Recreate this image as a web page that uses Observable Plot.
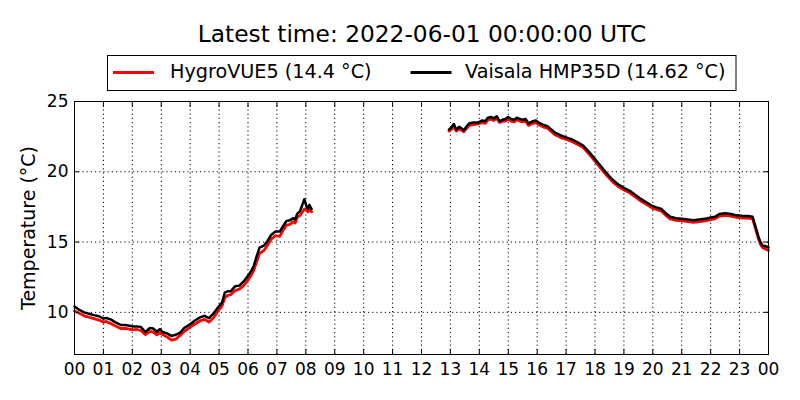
<!DOCTYPE html>
<html>
<head>
<meta charset="utf-8">
<script src="https://cdn.jsdelivr.net/npm/d3@7"></script>
<script src="https://cdn.jsdelivr.net/npm/@observablehq/plot@0.6"></script>
<style>
  html, body { margin: 0; padding: 0; background: white; }
  #wrap { position: relative; width: 800px; height: 400px; }
  #wrap > svg.overlay { position: absolute; left: 0; top: 0; }
</style>
</head>
<body>
<div id="wrap"></div>
<script>
// ---- data (hours since 00 UTC, temperature °C) ----
const titleText = "Latest time: 2022-06-01 00:00:00 UTC";
const seriesNames = ["HygroVUE5 (14.4 °C)", "Vaisala HMP35D (14.62 °C)"];
const seriesColors = ["#ff0000", "#000000"];
const hourTicks = [0,1,2,3,4,5,6,7,8,9,10,11,12,13,14,15,16,17,18,19,20,21,22,23,24];
const yTicks = [10, 15, 20, 25];

const morningHours = [0.00,0.15,0.33,0.50,0.67,0.85,1.00,1.10,1.25,1.40,1.60,1.75,1.90,2.00,2.15,2.30,2.45,2.60,2.72,2.85,2.95,3.05,3.20,3.35,3.50,3.65,3.80,4.00,4.15,4.35,4.50,4.65,4.80,5.00,5.10,5.20,5.30,5.40,5.55,5.70,5.85,6.00,6.10,6.20,6.30,6.40,6.55,6.65,6.80,6.95,7.10,7.20,7.33,7.45,7.55,7.63,7.70,7.80,7.87,7.95,8.02,8.07,8.12,8.20];
const vaisalaMorning = [10.42,10.2,10.0,9.9,9.8,9.72,9.55,9.6,9.5,9.3,9.1,9.1,9.05,9.0,9.0,8.95,8.6,8.88,8.85,8.62,8.8,8.6,8.5,8.32,8.4,8.55,8.9,9.15,9.4,9.65,9.75,9.58,9.9,10.45,10.7,11.4,11.5,11.5,11.85,11.9,12.2,12.6,12.9,13.3,14.0,14.6,14.75,15.0,15.5,15.75,15.75,16.1,16.5,16.55,16.7,16.6,17.0,17.2,17.6,18.05,17.55,17.35,17.65,17.35];
const hygroMorning = [10.1,9.95,9.75,9.65,9.55,9.45,9.3,9.35,9.2,9.05,8.85,8.85,8.8,8.75,8.78,8.7,8.42,8.65,8.6,8.4,8.55,8.42,8.25,8.02,8.1,8.35,8.65,8.95,9.15,9.4,9.5,9.3,9.6,10.2,10.45,11.05,11.2,11.25,11.55,11.65,11.9,12.3,12.6,13.0,13.6,14.2,14.4,14.7,15.2,15.45,15.4,15.8,16.2,16.25,16.45,16.35,16.75,16.9,17.1,17.35,17.3,17.15,17.3,17.15];

const afternoonHours = [12.95,13.05,13.12,13.20,13.30,13.38,13.46,13.55,13.65,13.80,13.95,14.10,14.20,14.30,14.40,14.50,14.60,14.70,14.80,14.90,15.00,15.10,15.20,15.30,15.40,15.50,15.60,15.70,15.85,15.95,16.05,16.20,16.35,16.50,16.60,16.80,17.00,17.20,17.40,17.60,17.80,18.00,18.20,18.40,18.60,18.80,19.00,19.20,19.40,19.60,19.80,20.00,20.15,20.30,20.45,20.60,20.80,21.00,21.20,21.40,21.60,21.80,22.00,22.15,22.30,22.50,22.70,22.90,23.10,23.30,23.45,23.55,23.65,23.72,23.80,23.90,24.00];
const vaisalaAfternoon = [23.0,23.2,23.4,23.0,23.2,23.1,22.95,23.2,23.45,23.5,23.5,23.65,23.6,23.85,23.9,23.8,23.95,23.6,23.7,23.75,23.9,23.75,23.7,23.85,23.75,23.7,23.75,23.45,23.6,23.65,23.5,23.35,23.25,23.0,22.8,22.6,22.45,22.3,22.1,21.85,21.4,20.9,20.4,19.9,19.45,19.1,18.85,18.65,18.35,18.05,17.8,17.55,17.45,17.35,17.05,16.8,16.7,16.65,16.6,16.55,16.6,16.65,16.75,16.8,17.0,17.05,17.0,16.9,16.85,16.85,16.8,16.1,15.4,15.0,14.75,14.7,14.62];
const hygroAfternoon = [22.9,23.05,23.2,22.9,23.05,22.95,22.85,23.05,23.3,23.35,23.4,23.5,23.45,23.7,23.75,23.65,23.8,23.5,23.6,23.6,23.75,23.6,23.55,23.7,23.6,23.55,23.6,23.3,23.45,23.5,23.35,23.2,23.1,22.85,22.65,22.45,22.3,22.15,21.95,21.7,21.25,20.75,20.25,19.75,19.3,18.95,18.7,18.5,18.2,17.9,17.65,17.4,17.3,17.2,16.9,16.65,16.55,16.5,16.45,16.4,16.45,16.5,16.6,16.65,16.85,16.9,16.85,16.75,16.7,16.7,16.65,15.95,15.25,14.85,14.6,14.5,14.4];

// ---- build table ----
const rows = [];
function add(series, seg, hours, values) {
  hours.forEach((h, i) => rows.push({series, seg, h, v: values[i]}));
}
add(seriesNames[0], "am", morningHours, hygroMorning);
add(seriesNames[0], "pm", afternoonHours, hygroAfternoon);
add(seriesNames[1], "am", morningHours, vaisalaMorning);
add(seriesNames[1], "pm", afternoonHours, vaisalaAfternoon);

const fmtHour = d => String(d % 24).padStart(2, "0");
const gridStyle = {stroke: "black", strokeOpacity: 1, strokeWidth: 1, strokeDasharray: "1.2,3"};

const chart = Plot.plot({
  width: 800,
  height: 400,
  marginLeft: 74,
  marginRight: 32,
  marginTop: 101,
  marginBottom: 46,
  x: {domain: [0, 24]},
  y: {domain: [7, 25]},
  style: {fontFamily: "DejaVu Sans", fontSize: "17px", color: "black", background: "white"},
  marks: [
    Plot.gridX(hourTicks, gridStyle),
    Plot.gridY(yTicks, gridStyle),
    Plot.line(rows.filter(d => d.series === seriesNames[0]), {x: "h", y: "v", z: "seg", stroke: seriesColors[0], strokeWidth: 2.8}),
    Plot.line(rows.filter(d => d.series === seriesNames[1]), {x: "h", y: "v", z: "seg", stroke: seriesColors[1], strokeWidth: 2.5}),
    Plot.axisX(hourTicks, {tickSize: 0, tickPadding: 8, tickFormat: fmtHour, label: null, fontSize: 17}),
    Plot.axisX(hourTicks, {tickSize: -5, tickFormat: () => "", label: null}),
    Plot.axisX(hourTicks, {anchor: "top", tickSize: -5, tickFormat: () => "", label: null}),
    Plot.axisY(yTicks, {tickSize: 0, tickPadding: 6, label: null, fontSize: 17}),
    Plot.axisY(yTicks, {tickSize: -5, tickFormat: () => "", label: null}),
    Plot.axisY(yTicks, {anchor: "right", tickSize: -5, tickFormat: () => "", label: null}),
    Plot.frame({stroke: "black", strokeWidth: 1}),
    Plot.text(["Temperature (°C)"], {frameAnchor: "left", textAnchor: "middle", lineAnchor: "middle", text: d => d, rotate: -90, dx: -46, fontSize: 19, fill: "black"})
  ]
});

const wrap = document.getElementById("wrap");
wrap.appendChild(chart);

// ---- title & legend overlay ----
const ns = "http://www.w3.org/2000/svg";
const ov = document.createElementNS(ns, "svg");
ov.setAttribute("class", "overlay");
ov.setAttribute("width", 800);
ov.setAttribute("height", 100);
ov.setAttribute("font-family", "DejaVu Sans");
function el(tag, attrs, text) {
  const e = document.createElementNS(ns, tag);
  for (const k in attrs) e.setAttribute(k, attrs[k]);
  if (text != null) e.textContent = text;
  ov.appendChild(e);
  return e;
}
el("text", {x: 422, y: 42.3, "text-anchor": "middle", "font-size": 23.3, fill: "black"}, titleText);
el("rect", {x: 107.5, y: 55.5, width: 628.5, height: 35, fill: "white", stroke: "black", "stroke-width": 1});
el("line", {x1: 113, x2: 154, y1: 72.5, y2: 72.5, stroke: seriesColors[0], "stroke-width": 2.8});
el("text", {x: 170, y: 78.3, "font-size": 19.2, fill: "black"}, seriesNames[0]);
el("line", {x1: 410.5, x2: 451.5, y1: 72.5, y2: 72.5, stroke: seriesColors[1], "stroke-width": 2.8});
el("text", {x: 465, y: 78.3, "font-size": 19.2, fill: "black"}, seriesNames[1]);
wrap.appendChild(ov);
</script>
</body>
</html>
